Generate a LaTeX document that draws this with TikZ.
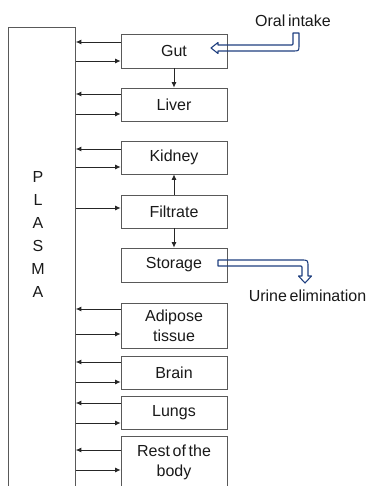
\documentclass[tikz,border=0pt]{standalone}
\usepackage{fontspec}
\setmainfont{Liberation Sans}[WordSpace=0.6]
\usetikzlibrary{arrows.meta}
\definecolor{arrowblue}{HTML}{1F3F7F}
\begin{document}
\begin{tikzpicture}[x=1pt,y=-1pt,
  box/.style={draw=black!65, line width=0.8pt, minimum width=106pt, inner sep=0pt,
    font=\fontsize{16}{20}\selectfont, text=black!90, align=center},
  link/.style={black!85, line width=0.8pt, -{Latex[length=5.5pt,width=5pt]}},
  hollow/.style={draw=arrowblue, line width=1.1pt, line join=round},
  lbl/.style={font=\fontsize{16}{20}\selectfont, text=black!90, inner sep=0pt}]
\useasboundingbox (0,0) rectangle (374,486);

% plasma
\node[draw=black!65, line width=0.8pt, minimum width=67pt, minimum height=463pt,
  inner sep=0pt, anchor=north west] (plasma) at (8,27) {};
\node[font=\fontsize{16}{23}\selectfont, text=black!90, align=center] (plasmatext) at (38,234.5) {P\\L\\A\\S\\M\\A};

% organs
\node[box, minimum height=34pt] (gut) at (174,51) {Gut};
\node[box, minimum height=33pt] (liver) at (174,104.5) {Liver};
\node[box, minimum height=33pt] (kidney) at (174,157.5) {Kidney};
\node[box, minimum height=33pt] (filtrate) at (174,211.5) {Filtrate};
\node[box, minimum height=34pt] (storage) at (174,265) {Storage};
\node[box, minimum height=45pt] (adipose) at (174,325.5) {Adipose\\tissue};
\node[box, minimum height=33pt] (brain) at (174,372.5) {Brain};
\node[box, minimum height=33pt] (lungs) at (174,412.5) {Lungs};
\node[box, minimum height=52pt] (rest) at (174,462) {Rest of the\\body};

% labels
\node[lbl] (oral) at (293,20.5) {Oral intake};
\node[lbl] (urine) at (307.5,296) {Urine elimination};

% exchanges with plasma
\foreach \n/\a/\b in {gut/42/61, liver/94/114, kidney/149/167, adipose/309/334,
                      brain/362/382, lungs/403/423, rest/450/470} {
  \draw[link] (\n.west |- 0,\a) -- (plasma.east |- 0,\a);
  \draw[link] (plasma.east |- 0,\b) -- (\n.west |- 0,\b);
}
\draw[link] (plasma.east |- 0,208) -- (filtrate.west |- 0,208);

% internal flow
\draw[link] (gut) -- (liver);
\draw[link] (filtrate) -- (kidney);
\draw[link] (filtrate) -- (storage);

% hollow arrows
\draw[hollow] (293,33) -- (299,33) -- (299,45) .. controls (299,51) .. (293,51)
  -- (218,51) -- (218,53.5) -- (211,48) -- (218,42.5) -- (218,45) -- (292,45)
  .. controls (293,45) .. (293,44) -- cycle;
\draw[hollow] (218,260) -- (301,260) .. controls (308,260) .. (308,267) -- (308,276)
  -- (311.5,276) -- (305,283) -- (298.5,276) -- (302,276) -- (302,267)
  .. controls (302,266) .. (301,266) -- (218,266) -- cycle;
\end{tikzpicture}
\end{document}
